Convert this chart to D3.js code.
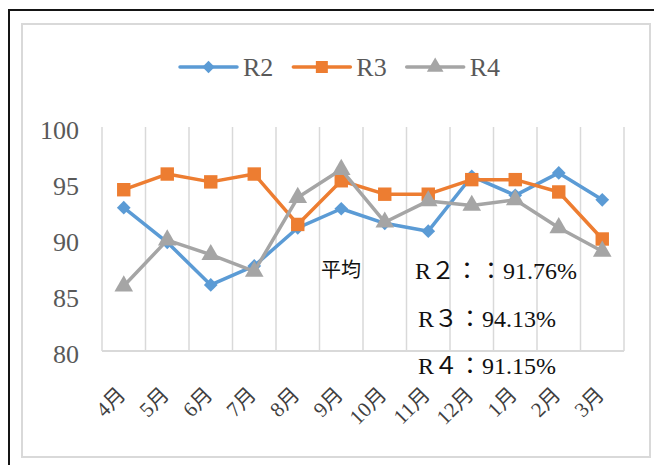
<!DOCTYPE html>
<html>
<head>
<meta charset="utf-8">
<script src="https://cdn.jsdelivr.net/npm/d3@7"></script>
<style>
  html, body { margin: 0; padding: 0; background: #fff; }
  svg { display: block; }
  svg text { font-family: "Liberation Serif", "Times New Roman", Times, "DejaVu Serif", "Noto Sans CJK JP", serif !important; }
</style>
</head>
<body>
<svg id="chart" width="654" height="465"></svg>
<script>
// Monthly scores per line (April to March)
const months = ["4月", "5月", "6月", "7月", "8月", "9月", "10月", "11月", "12月", "1月", "2月", "3月"];
const r2 = [92.8, 89.7, 85.9, 87.6, 91.0, 92.7, 91.4, 90.7, 95.6, 93.9, 95.9, 93.5];
const r3 = [94.4, 95.8, 95.1, 95.8, 91.3, 95.2, 94.0, 94.0, 95.3, 95.3, 94.2, 90.0];
const r4 = [85.8, 89.9, 88.6, 87.1, 93.7, 96.2, 91.5, 93.4, 93.0, 93.5, 91.0, 88.9];
const yTicks = [80, 85, 90, 95, 100];
const seriesNames = ["R2", "R3", "R4"];
const averageTitle = "平均";
const averageLines = ["R２：：91.76%", "R３：94.13%", "R４：91.15%"];

const series = [
  { name: seriesNames[0], values: r2, color: "#5B9BD5", symbol: d3.symbolDiamond2, size: 120 },
  { name: seriesNames[1], values: r3, color: "#ED7D31", symbol: d3.symbolSquare, size: 180 },
  { name: seriesNames[2], values: r4, color: "#A5A5A5", symbol: d3.symbolTriangle, size: 150 }
];

const svg = d3.select("#chart");
const plot = { left: 102, right: 624, top: 127, bottom: 351 };

// Outer and inner frames
svg.append("path")
  .attr("d", "M9,465V10H654")
  .attr("fill", "none").attr("stroke", "#151515").attr("stroke-width", 2);
svg.append("rect")
  .attr("x", 22).attr("y", 24).attr("width", 628).attr("height", 433)
  .attr("fill", "none").attr("stroke", "#d9d9d9").attr("stroke-width", 2);

const x = d3.scaleBand().domain(months).range([plot.left, plot.right]);
const y = d3.scaleLinear().domain([80, 100]).range([plot.bottom, plot.top]);

// Vertical gridlines at category boundaries
const edges = months.map(m => x(m)).concat([plot.right]);
svg.append("g").selectAll("line").data(edges).join("line")
  .attr("x1", d => d).attr("x2", d => d)
  .attr("y1", plot.top).attr("y2", plot.bottom)
  .attr("stroke", "#d9d9d9").attr("stroke-width", 1.5);
svg.append("line")
  .attr("x1", plot.left).attr("x2", plot.right)
  .attr("y1", plot.bottom).attr("y2", plot.bottom)
  .attr("stroke", "#d9d9d9").attr("stroke-width", 2);

// Y axis labels
const yAxis = d3.axisLeft(y).tickValues(yTicks).tickSize(0).tickPadding(0);
const gy = svg.append("g").attr("transform", "translate(79,3)").call(yAxis);
gy.attr("font-family", null);
gy.select(".domain").remove();
gy.selectAll("text").attr("font-size", 26).attr("fill", "#595959");

// X axis labels, rotated
const xAxis = d3.axisBottom(x).tickSize(0).tickPadding(0);
const gx = svg.append("g").call(xAxis);
gx.attr("font-family", null);
gx.select(".domain").remove();
gx.selectAll(".tick").attr("transform", d => `translate(${x(d) + x.bandwidth() / 2 + 3},396)`);
gx.selectAll("text")
  .attr("y", 0).attr("dy", 0)
  .attr("transform", "rotate(-45)")
  .attr("text-anchor", "end")
  .attr("font-size", 21).attr("fill", "#404040");

// Lines and markers
const cx = d => x(d) + x.bandwidth() / 2;
const line = d3.line().x((v, i) => cx(months[i])).y(v => y(v));
series.forEach(s => {
  svg.append("path")
    .datum(s.values)
    .attr("d", line)
    .attr("fill", "none").attr("stroke", s.color)
    .attr("stroke-width", 3.5).attr("stroke-linejoin", "round");
  svg.append("g").selectAll("path").data(s.values).join("path")
    .attr("d", d3.symbol(s.symbol, s.size))
    .attr("transform", (v, i) => `translate(${cx(months[i])},${y(v)})`)
    .attr("fill", s.color);
});

// Legend
const legend = svg.append("g");
let lx = 180;
series.forEach(s => {
  const g = legend.append("g").attr("transform", `translate(${lx},67)`);
  g.append("line").attr("x1", 0).attr("x2", 57).attr("y1", 0).attr("y2", 0)
    .attr("stroke", s.color).attr("stroke-width", 3.5).attr("stroke-linecap", "round");
  g.append("path").attr("d", d3.symbol(s.symbol, s.size * 0.8)).attr("transform", "translate(28.5,0)")
    .attr("fill", s.color);
  const t = g.append("text").attr("x", 63).attr("y", 9).attr("font-size", 26)
    .attr("fill", "#595959").text(s.name);
  lx += 63 + t.node().getComputedTextLength() + 20;
});

// Average annotation
svg.append("text").attr("x", 321).attr("y", 277).attr("font-size", 20)
  .attr("fill", "#111").text(averageTitle);
const avgPos = [[415, 279], [418, 327], [418, 374]];
averageLines.forEach((t, i) => {
  svg.append("text").attr("x", avgPos[i][0]).attr("y", avgPos[i][1])
    .attr("font-size", 24).attr("fill", "#111").text(t);
});
</script>
</body>
</html>
